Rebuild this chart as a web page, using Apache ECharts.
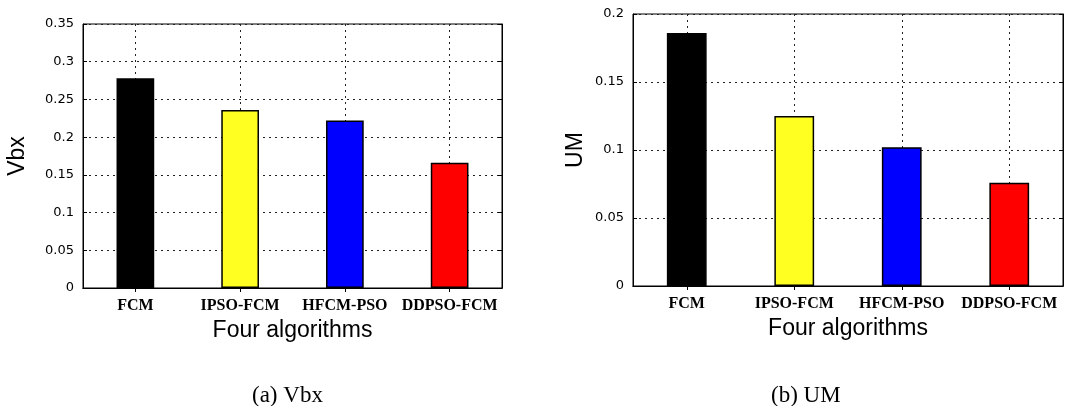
<!DOCTYPE html>
<html>
<head>
<meta charset="utf-8">
<script src="https://cdn.jsdelivr.net/npm/echarts@6/dist/echarts.min.js"></script>
<style>
  html, body { margin: 0; padding: 0; background: #fff; }
  #main { width: 1072px; height: 406px; }
</style>
</head>
<body>
<div id="main"></div>
<script>
// 数据
var categories = ['FCM', 'IPSO-FCM', 'HFCM-PSO', 'DDPSO-FCM'];
var vbxValues = [0.278, 0.236, 0.222, 0.166];
var umValues = [0.186, 0.125, 0.102, 0.076];
var barColors = ['#000000', '#ffff22', '#0000ff', '#ff0000'];
var vbxTicks = { min: 0, max: 0.35, interval: 0.05 };
var umTicks = { min: 0, max: 0.2, interval: 0.05 };

var myChart = echarts.init(document.getElementById('main'));

function barData(values) {
    return values.map(function (v, i) {
        return { value: v, itemStyle: { color: barColors[i] } };
    });
}

var dotted = { color: '#222', width: 1, type: [2, 4] };

function bottomAxis(gi) {
    return {
        type: 'category', gridIndex: gi, data: categories,
        axisLine: { lineStyle: { color: '#000', width: 1 } },
        axisTick: { show: true, inside: true, alignWithLabel: true, length: 4, lineStyle: { color: '#000' } },
        axisLabel: { color: '#000', fontFamily: 'Liberation Serif', fontWeight: 'bold', fontSize: 16, margin: 10, interval: 0 },
        splitLine: { show: true, alignWithLabel: true, lineStyle: dotted },
        name: 'Four algorithms', nameLocation: 'middle', nameGap: 30,
        nameTextStyle: { color: '#000', fontFamily: 'Liberation Sans', fontSize: 23 }
    };
}

function topAxis(gi) {
    return {
        type: 'category', gridIndex: gi, data: categories, position: 'top',
        axisLine: { lineStyle: { color: '#000', width: 1 } },
        axisTick: { show: true, inside: true, alignWithLabel: true, length: 4, lineStyle: { color: '#000' } },
        axisLabel: { show: false },
        splitLine: { show: false }
    };
}

function leftAxis(gi, t, name, gap) {
    return {
        type: 'value', gridIndex: gi, min: t.min, max: t.max, interval: t.interval,
        axisLine: { show: true, lineStyle: { color: '#000', width: 1 } },
        axisTick: { show: true, inside: true, length: 4, lineStyle: { color: '#000' } },
        axisLabel: { color: '#000', fontFamily: 'DejaVu Sans', fontSize: 13, margin: 9 },
        splitLine: { show: true, lineStyle: dotted },
        name: name, nameLocation: 'middle', nameGap: gap, nameRotate: 90,
        nameTextStyle: { color: '#000', fontFamily: 'Liberation Sans', fontSize: 23 }
    };
}

function rightAxis(gi, t) {
    return {
        type: 'value', gridIndex: gi, min: t.min, max: t.max, interval: t.interval, position: 'right',
        axisLine: { show: true, lineStyle: { color: '#000', width: 1 } },
        axisTick: { show: true, inside: true, length: 4, lineStyle: { color: '#000' } },
        axisLabel: { show: false },
        splitLine: { show: false }
    };
}

var option = {
    animation: false,
    backgroundColor: '#fff',
    title: [
        { text: '(a) Vbx', left: 247, top: 379, textStyle: { fontFamily: 'Liberation Serif', fontWeight: 'normal', fontSize: 23, color: '#000' } },
        { text: '(b) UM', left: 766, top: 379, textStyle: { fontFamily: 'Liberation Serif', fontWeight: 'normal', fontSize: 23, color: '#000' } }
    ],
    grid: [
        { left: 83, right: 570, top: 24, bottom: 118, show: true, borderColor: '#000', borderWidth: 1 },
        { left: 633, right: 9, top: 14, bottom: 120, show: true, borderColor: '#000', borderWidth: 1 }
    ],
    xAxis: [bottomAxis(0), topAxis(0), bottomAxis(1), topAxis(1)],
    yAxis: [leftAxis(0, vbxTicks, 'Vbx', 54), rightAxis(0, vbxTicks), leftAxis(1, umTicks, 'UM', 46), rightAxis(1, umTicks)],
    series: [
        {
            type: 'bar', xAxisIndex: 0, yAxisIndex: 0, barWidth: '36%',
            itemStyle: { borderColor: '#000', borderWidth: 1.5 },
            data: barData(vbxValues)
        },
        {
            type: 'bar', xAxisIndex: 2, yAxisIndex: 2, barWidth: '37%',
            itemStyle: { borderColor: '#000', borderWidth: 1.5 },
            data: barData(umValues)
        }
    ]
};

myChart.setOption(option);
</script>
</body>
</html>
